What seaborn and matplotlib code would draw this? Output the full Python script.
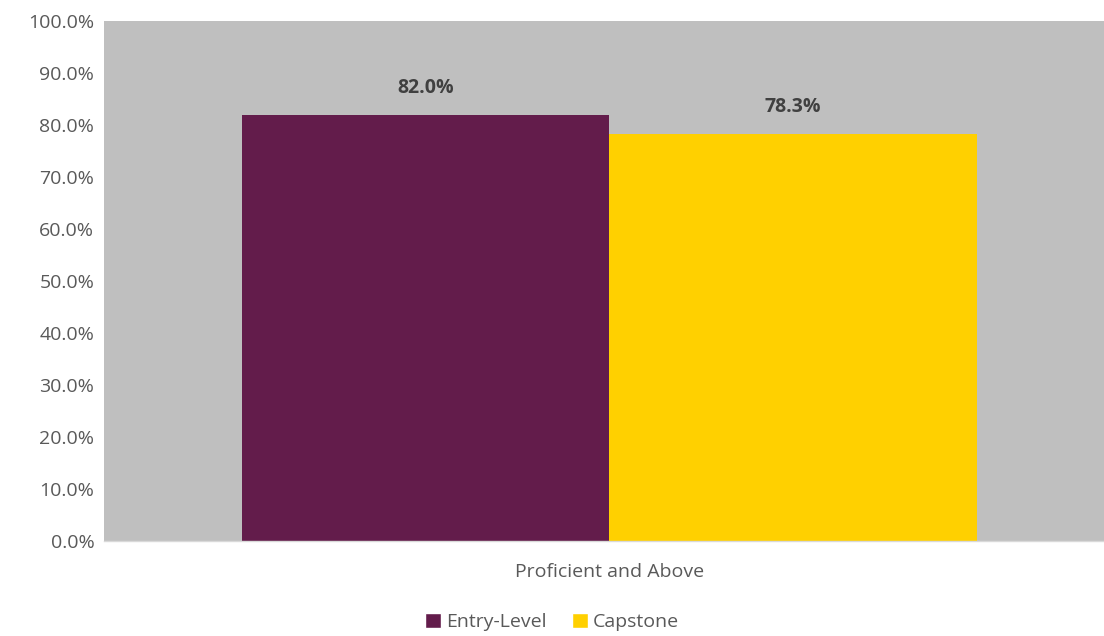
import matplotlib
matplotlib.use("Agg")
import matplotlib.pyplot as plt
import seaborn as sns
import pandas as pd
from matplotlib.patches import Patch

categories = ["Proficient and Above"]
series = ["Entry-Level", "Capstone"]
values = [82.0, 78.3]
colors = ["#631C4B", "#FFD000"]
yticks = [0, 10, 20, 30, 40, 50, 60, 70, 80, 90, 100]

sns.set_theme(style="white")
plt.rcParams["font.family"] = ["Open Sans", "DejaVu Sans"]
txt = "#595959"

df = pd.DataFrame({"cat": categories * len(series), "series": series, "value": values})

fig = plt.figure(figsize=(11.04, 6.36), dpi=100)
ax = fig.add_axes([0.0942, 0.1494, 0.9058, 0.8176])
ax.set_facecolor("#BFBFBF")
sns.barplot(data=df, x="cat", y="value", hue="series", palette=colors,
            width=0.735, saturation=1, ax=ax, legend=False, linewidth=0)
ax.set_ylim(0, 100)
ax.set_xlim(-0.5055, 0.4945)
ax.set_yticks(yticks)
ax.set_yticklabels([f"{v:.1f}%" for v in yticks], fontsize=14, color=txt)
ax.tick_params(axis="x", labelsize=14, colors=txt, length=0, pad=16)
ax.tick_params(axis="y", length=0, pad=7)
ax.set_xlabel("")
ax.set_ylabel("")
for s in ["top", "right", "left"]:
    ax.spines[s].set_visible(False)
ax.spines["bottom"].set_color("#D9D9D9")
ax.spines["bottom"].set_linewidth(1)

for cont in ax.containers:
    ax.bar_label(cont, labels=[f"{b.get_height():.1f}%" for b in cont],
                 padding=12, fontsize=14, fontweight="bold", color="#404040")

handles = [Patch(facecolor=c, label=s) for s, c in zip(series, colors)]
fig.legend(handles=handles, loc="lower center", bbox_to_anchor=(0.5, -0.02), ncol=2,
           frameon=False, fontsize=14, labelcolor=txt, handlelength=0.85, handleheight=0.85,
           handletextpad=0.25, columnspacing=1.3)

fig.savefig("out.png", dpi=100)
